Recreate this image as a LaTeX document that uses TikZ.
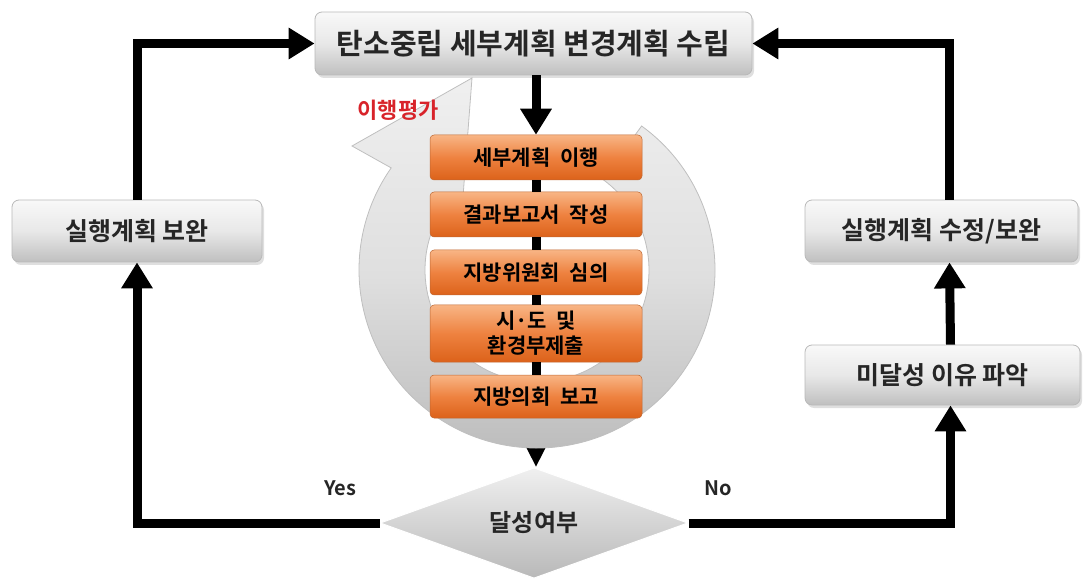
\documentclass[tikz,border=0pt]{standalone}
\usepackage{fontspec}
\setmainfont{Noto Sans CJK KR}[BoldFont={Noto Sans CJK KR Bold}]
\usetikzlibrary{calc,shapes.geometric,shadows,arrows.meta}
\pgfdeclarelayer{bg}\pgfdeclarelayer{mid}
\pgfsetlayers{bg,mid,main}
\definecolor{ortop}{HTML}{F8B585}
\definecolor{ormid}{HTML}{EE8240}
\definecolor{orbot}{HTML}{DC621A}
\definecolor{evalred}{HTML}{D8232A}
\begin{document}
\begin{tikzpicture}[x=1pt,y=-1pt,
 greybox/.style={rounded corners=7pt, draw=gray!55, line width=0.8pt, top color=gray!5, bottom color=gray!50, middle color=gray!18, font=\bfseries\fontsize{25}{29}\selectfont, text=black!85, inner sep=0pt, drop shadow={opacity=0.25,shadow xshift=2pt,shadow yshift=-3pt}},
 orbox/.style={rounded corners=4pt, draw=ormid!80!black, line width=0.5pt, top color=ortop, bottom color=orbot, middle color=ormid, minimum width=212pt, font=\bfseries\fontsize{21}{25}\selectfont, inner sep=0pt, align=center},
 conn/.style={line width=9pt, black},
 bigtip/.style={-{Triangle[length=26pt,width=30pt]}},
 smalltip/.style={-{Triangle[length=22pt,width=20pt]}},
 lbl/.style={font=\bfseries\fontsize{20}{24}\selectfont, text=black!85},
]
\useasboundingbox (0,0) rectangle (1085,580);

% boxes
\node[greybox, minimum width=437pt, minimum height=63pt, font=\bfseries\fontsize{29}{33}\selectfont] (top) at (533.5,43.5) {탄소중립 세부계획 변경계획 수립};
\node[greybox, minimum width=250pt, minimum height=62pt] (lb) at (137,231) {실행계획 보완};
\node[greybox, minimum width=273pt, minimum height=62pt] (rb) at (941.5,231) {실행계획 수정/보완};
\node[greybox, minimum width=275pt, minimum height=60pt] (rl) at (942.5,375) {미달성 이유 파악};

\node[orbox, minimum height=45pt] (o1) at (536,157.5) {세부계획\ \ 이행};
\node[orbox, minimum height=45pt] (o2) at (536,214.5) {결과보고서\ \ 작성};
\node[orbox, minimum height=45pt] (o3) at (536,272.5) {지방위원회\ \ 심의};
\node[orbox, minimum height=57pt] (o4) at (536,333.5) {시·도\ \ 및\\환경부제출};
\node[orbox, minimum height=43pt] (o5) at (536,396.5) {지방의회\ \ 보고};

\node[diamond, draw=white, line width=1pt, top color=gray!12, bottom color=gray!55, minimum width=308pt, minimum height=110pt, inner sep=0pt, font=\bfseries\fontsize{24}{28}\selectfont, text=black!85] (dia) at (534,523) {달성여부};

\node[lbl] (yes) at (340,488) {Yes};
\node[lbl] (no) at (718,488) {No};

% ring
\begin{pgfonlayer}{mid}
\coordinate (C) at (537,270);
\path[draw=gray!50, line width=0.8pt, top color=gray!12, bottom color=gray!55, middle color=gray!25]
  ($(C)+(-54:178)$) arc[start angle=-54,end angle=215,radius=178]
  -- (352,146) -- (472,78) -- (462,210)
  -- ($(C)+(215:112)$) arc[start angle=215,end angle=-54,radius=112] -- cycle;
\end{pgfonlayer}
\node[font=\bfseries\fontsize{22}{26}\selectfont, text=evalred] (eval) at (398,110) {이행평가};

% connectors
\draw[conn, bigtip] (o1.north |- top.south) -- (o1.north);
\draw[conn] (o1.south) -- (o2.north);
\draw[conn] (o2.south) -- (o3.north);
\draw[conn] (o3.south) -- (o4.north);
\draw[conn] (o4.south) -- (o5.north);
\begin{pgfonlayer}{bg}
\draw[conn, smalltip] (o5.south) -- (o5.south |- dia.north);
\end{pgfonlayer}

\draw[conn, bigtip] (dia.west) -| (lb.south);
\draw[conn, bigtip] (lb.north) |- (top.west);
\draw[conn, bigtip] (dia.east) -| ([xshift=8pt]rl.south);
\draw[conn, bigtip] ([xshift=8pt]rl.north) -- ([xshift=8pt]rb.south);
\draw[conn, bigtip] ([xshift=8pt]rb.north) |- (top.east);
\end{tikzpicture}
\end{document}
